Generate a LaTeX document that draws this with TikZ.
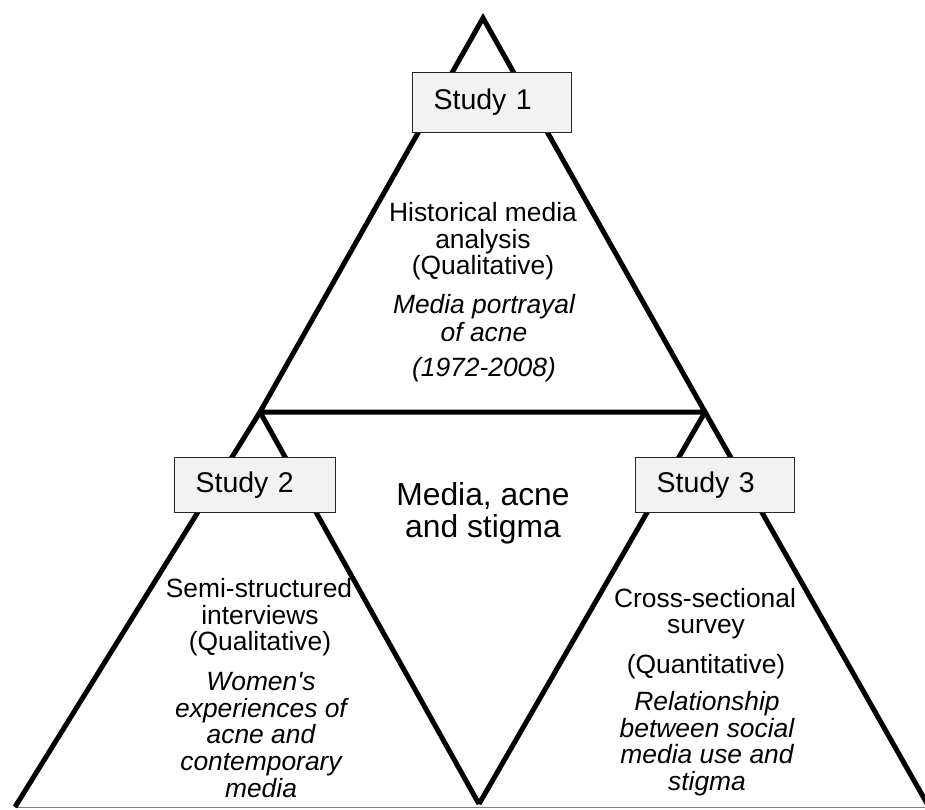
\documentclass[tikz,border=0pt]{standalone}
\usepackage{fontspec}
\setmainfont{Liberation Sans}[Ligatures=TeXOff]
\begin{document}
\begin{tikzpicture}[x=1pt,y=-1pt,
  edge/.style={line width=5pt,line join=miter,black},
  baseline/.style={line width=1.5pt,draw=black!50},
  studybox/.style={draw=black!85,line width=1.2pt,fill=black!5,rectangle,
    inner xsep=21pt,inner ysep=0pt,text width=117pt,align=left,
    font=\fontsize{28.5}{30}\selectfont},
  body/.style={anchor=base,inner sep=0pt,font=\fontsize{26.4}{27}\selectfont},
  bodyit/.style={body,font=\fontsize{26.4}{27}\selectfont\itshape},
  centre/.style={anchor=base,inner sep=0pt,font=\fontsize{31.8}{33}\selectfont}]
\useasboundingbox (0,0) rectangle (925,809);
% key points
\coordinate (A) at (483,18);
\coordinate (L) at (260,412);
\coordinate (R) at (705,412);
\coordinate (BL) at (15,807);
\coordinate (BM) at (479,804);
\coordinate (BR) at (929,807);
\coordinate (G1) at (15,807.5);
\coordinate (G2) at (925,807.5);
% base line
\draw[baseline] (G1) -- (G2);
% triangles
\draw[edge] (L) -- (A) -- (R) -- cycle;
\draw[edge] (BL) -- (L) -- (BM);
\draw[edge] (BM) -- (R) -- (BR);
% study boxes
\node[studybox,minimum height=60pt,anchor=north west] (s1) at (412,72) {Study 1};
\node[studybox,minimum height=55pt,text width=119pt,anchor=north west] (s2) at (174,457) {\raisebox{-3pt}{Study 2}};
\node[studybox,minimum height=55pt,anchor=north west] (s3) at (635,457) {\raisebox{-3pt}{Study 3}};
% top text
\node[body] (t1) at (483,221) {Historical media};
\node[body] (t2) at (483,248) {analysis};
\node[body] (t3) at (483,274) {(Qualitative)};
\node[bodyit] (t4) at (484,313) {Media portrayal};
\node[bodyit] (t5) at (484,341) {of acne};
\node[bodyit] (t6) at (484,376) {(1972-2008)};
% left text
\node[body] (l1) at (259,597) {Semi-structured};
\node[body] (l2) at (260,624) {interviews};
\node[body] (l3) at (260,650) {(Qualitative)};
\node[bodyit] (l4) at (261,690) {Women's};
\node[bodyit] (l5) at (261,717) {experiences of};
\node[bodyit] (l6) at (261,743) {acne and};
\node[bodyit] (l7) at (261,770) {contemporary};
\node[bodyit] (l8) at (261,797) {media};
% right text
\node[body] (r1) at (705,607) {Cross-sectional};
\node[body] (r2) at (706,633) {survey};
\node[body] (r3) at (706,673) {(Quantitative)};
\node[bodyit] (r4) at (707,710) {Relationship};
\node[bodyit] (r5) at (707,737) {between social};
\node[bodyit] (r6) at (707,763) {media use and};
\node[bodyit] (r7) at (707,790) {stigma};
% centre text
\node[centre] (c1) at (483,505) {Media, acne};
\node[centre] (c2) at (483,537) {and stigma};
\end{tikzpicture}
\end{document}
